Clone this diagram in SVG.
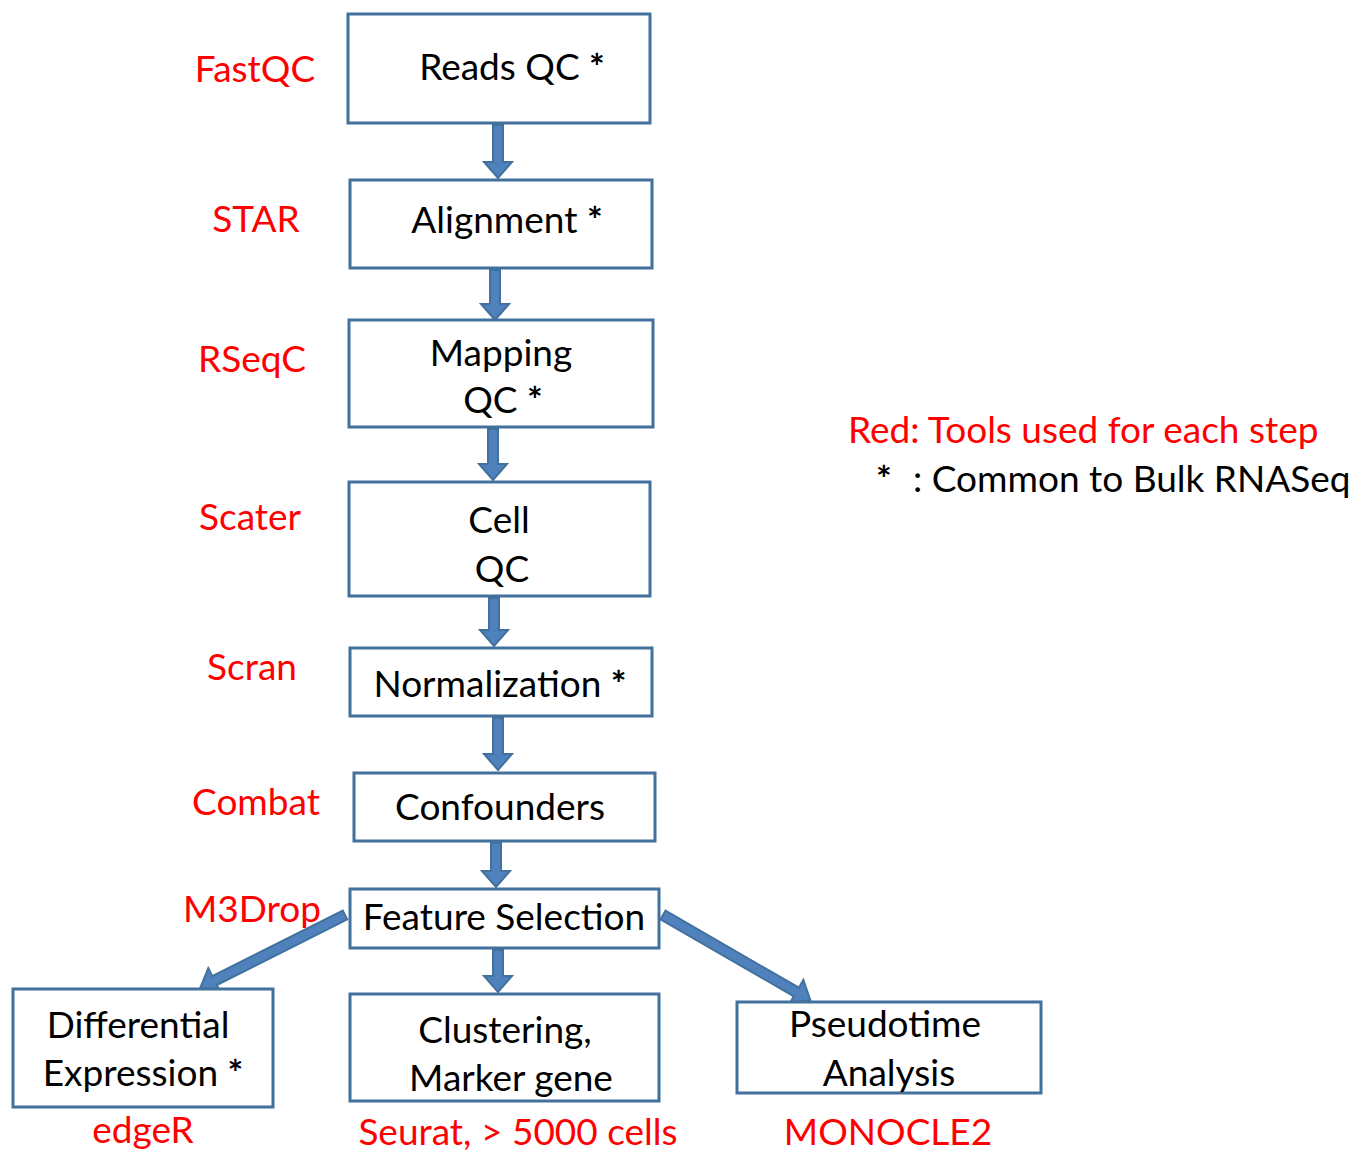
<svg xmlns="http://www.w3.org/2000/svg" width="1365" height="1160" viewBox="0 0 1365 1160">
<style>
.box{fill:#fff;stroke:#41719c;stroke-width:3}
.arr{fill:#4f81bd;stroke:#41719c;stroke-width:2;stroke-linejoin:miter}
text{font-family:Lato,"Open Sans","Liberation Sans",sans-serif;font-size:37px}
.n{fill:#000;text-anchor:middle}
.r{fill:#ff0000;text-anchor:middle}
.k{fill:#000}
.s{font-weight:bold}
</style>
<rect width="1365" height="1160" fill="#fff"/>
<g id="connectors">
<polygon class="arr" points="493,125 503,125 503,162 512,162 498,178 484,162 493,162"/>
<polygon class="arr" points="490,270 500,270 500,304 509,304 495,320 481,304 490,304"/>
<polygon class="arr" points="488,429 498,429 498,464 507,464 493,480 479,464 488,464"/>
<polygon class="arr" points="489,598 499,598 499,630 508,630 494,646 480,630 489,630"/>
<polygon class="arr" points="493,718 503,718 503,754 512,754 498,770 484,754 493,754"/>
<polygon class="arr" points="491,843 501,843 501,871 510,871 496,887 482,871 491,871"/>
<polygon class="arr" points="493,950 503,950 503,976 512,976 498,992 484,976 493,976"/>
<polygon class="arr" transform="translate(345,915) rotate(153.3)" points="0,-5 146,-5 146,-14 162,0 146,14 146,5 0,5"/>
<polygon class="arr" transform="translate(663,915) rotate(30)" points="0,-5 154,-5 154,-14 170,0 154,14 154,5 0,5"/>
</g>
<g id="reads-qc"><rect class="box" x="348" y="14" width="302" height="109"/><text class="n" x="512" y="80">Reads QC <tspan class="s">*</tspan></text></g>
<g id="alignment"><rect class="box" x="350" y="180" width="302" height="88"/><text class="n" x="507" y="233">Alignment <tspan class="s">*</tspan></text></g>
<g id="mapping-qc"><rect class="box" x="349" y="320" width="304" height="107"/><text class="n" x="501" y="366">Mapping</text><text class="n" x="503" y="413">QC <tspan class="s">*</tspan></text></g>
<g id="cell-qc"><rect class="box" x="349" y="482" width="301" height="114"/><text class="n" x="499" y="533">Cell</text><text class="n" x="502" y="582">QC</text></g>
<g id="normalization"><rect class="box" x="350" y="648" width="302" height="68"/><text class="n" x="500" y="697">Normalization <tspan class="s">*</tspan></text></g>
<g id="confounders"><rect class="box" x="354" y="773" width="301" height="68"/><text class="n" x="500" y="820">Confounders</text></g>
<g id="feature-selection"><rect class="box" x="350" y="889" width="309" height="59"/><text class="n" x="504" y="930">Feature Selection</text></g>
<g id="differential-expression"><rect class="box" x="13" y="989" width="260" height="118"/><text class="n" x="138" y="1038">Differential</text><text class="n" x="143" y="1086">Expression <tspan class="s">*</tspan></text></g>
<g id="clustering"><rect class="box" x="350" y="994" width="309" height="107"/><text class="n" x="505" y="1043">Clustering,</text><text class="n" x="511" y="1091">Marker gene</text></g>
<g id="pseudotime"><rect class="box" x="737" y="1002" width="304" height="91"/><text class="n" x="885" y="1037">Pseudotime</text><text class="n" x="889" y="1086">Analysis</text></g>
<g id="tools">
<text class="r" x="255" y="82">FastQC</text>
<text class="r" x="256" y="232">STAR</text>
<text class="r" x="252" y="372">RSeqC</text>
<text class="r" x="250" y="530">Scater</text>
<text class="r" x="252" y="680">Scran</text>
<text class="r" x="256" y="815">Combat</text>
<text class="r" x="252" y="922">M3Drop</text>
<text class="r" x="143" y="1143">edgeR</text>
<text class="r" x="518" y="1145">Seurat, &gt; 5000 cells</text>
<text class="r" x="888" y="1145">MONOCLE2</text>
</g>
<g id="legend">
<text x="848" y="443" fill="#ff0000">Red: Tools used for each step</text>
<text class="k s" x="876" y="492">*</text>
<text class="k" x="913" y="492">: Common to Bulk RNASeq</text>
</g>
</svg>
